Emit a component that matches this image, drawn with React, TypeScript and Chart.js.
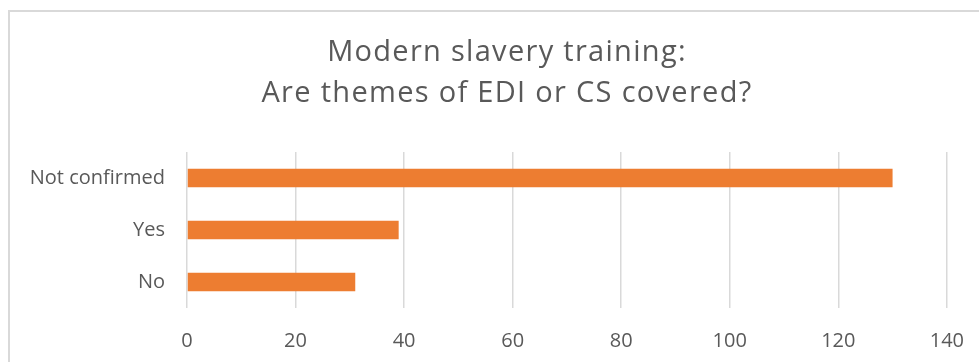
import React, { useEffect, useRef } from "react";
import { Chart, registerables } from "chart.js";

Chart.register(...registerables);

const categories = ["Not confirmed", "Yes", "No"];
const values = [130, 39, 31];
const titleLines = ["Modern slavery training:", "Are themes of EDI or CS covered?"];
const xMin = 0;
const xMax = 140;
const xStep = 20;

const titlePlugin = {
  id: "excelTitle",
  afterDraw(chart: any) {
    const ctx = chart.ctx as CanvasRenderingContext2D;
    ctx.save();
    ctx.fillStyle = "#595959";
    ctx.font = "29px 'Open Sans'";
    (ctx as any).letterSpacing = "1.3px";
    ctx.textAlign = "center";
    ctx.textBaseline = "alphabetic";
    const cx = 497;
    const baselines = [49, 90];
    titleLines.forEach((line, i) => ctx.fillText(line, cx, baselines[i]));
    ctx.restore();
  },
};

export default function App() {
  const ref = useRef<HTMLCanvasElement | null>(null);

  useEffect(() => {
    if (!ref.current) return;
    const chart = new Chart(ref.current, {
      type: "bar",
      data: {
        labels: categories,
        datasets: [
          {
            data: values,
            backgroundColor: "#ED7D31",
            borderWidth: 0,
            barPercentage: 0.36,
            categoryPercentage: 1,
          },
        ],
      },
      plugins: [titlePlugin],
      options: {
        indexAxis: "y",
        animation: false,
        responsive: false,
        maintainAspectRatio: false,
        layout: { padding: { top: 140, left: 10, right: 22, bottom: 8 } },
        plugins: {
          legend: { display: false },
          tooltip: { enabled: false },
          title: { display: false },
        },
        scales: {
          x: {
            min: xMin,
            max: xMax,
            ticks: {
              stepSize: xStep,
              color: "#595959",
              font: { family: "'Open Sans'", size: 20 },
              padding: 21,
              maxRotation: 0,
            },
            grid: { color: "#d9d9d9", lineWidth: 1.5, drawTicks: false },
            border: { display: false },
          },
          y: {
            ticks: {
              color: "#595959",
              font: { family: "'Open Sans'", size: 20 },
              padding: 22,
            },
            grid: { display: false, drawTicks: false },
            border: { display: false },
            afterFit: (scale: any) => {
              scale.width = 167;
            },
          },
        },
      },
    });
    return () => chart.destroy();
  }, []);

  return (
    <div
      style={{
        position: "absolute",
        left: 8,
        top: 10,
        width: 971,
        height: 352,
        boxSizing: "border-box",
        borderTop: "2px solid #d9d9d9",
        borderLeft: "2px solid #d9d9d9",
        background: "#fff",
        overflow: "hidden",
      }}
    >
      <canvas ref={ref} width={975} height={370} style={{ display: "block" }} />
    </div>
  );
}
